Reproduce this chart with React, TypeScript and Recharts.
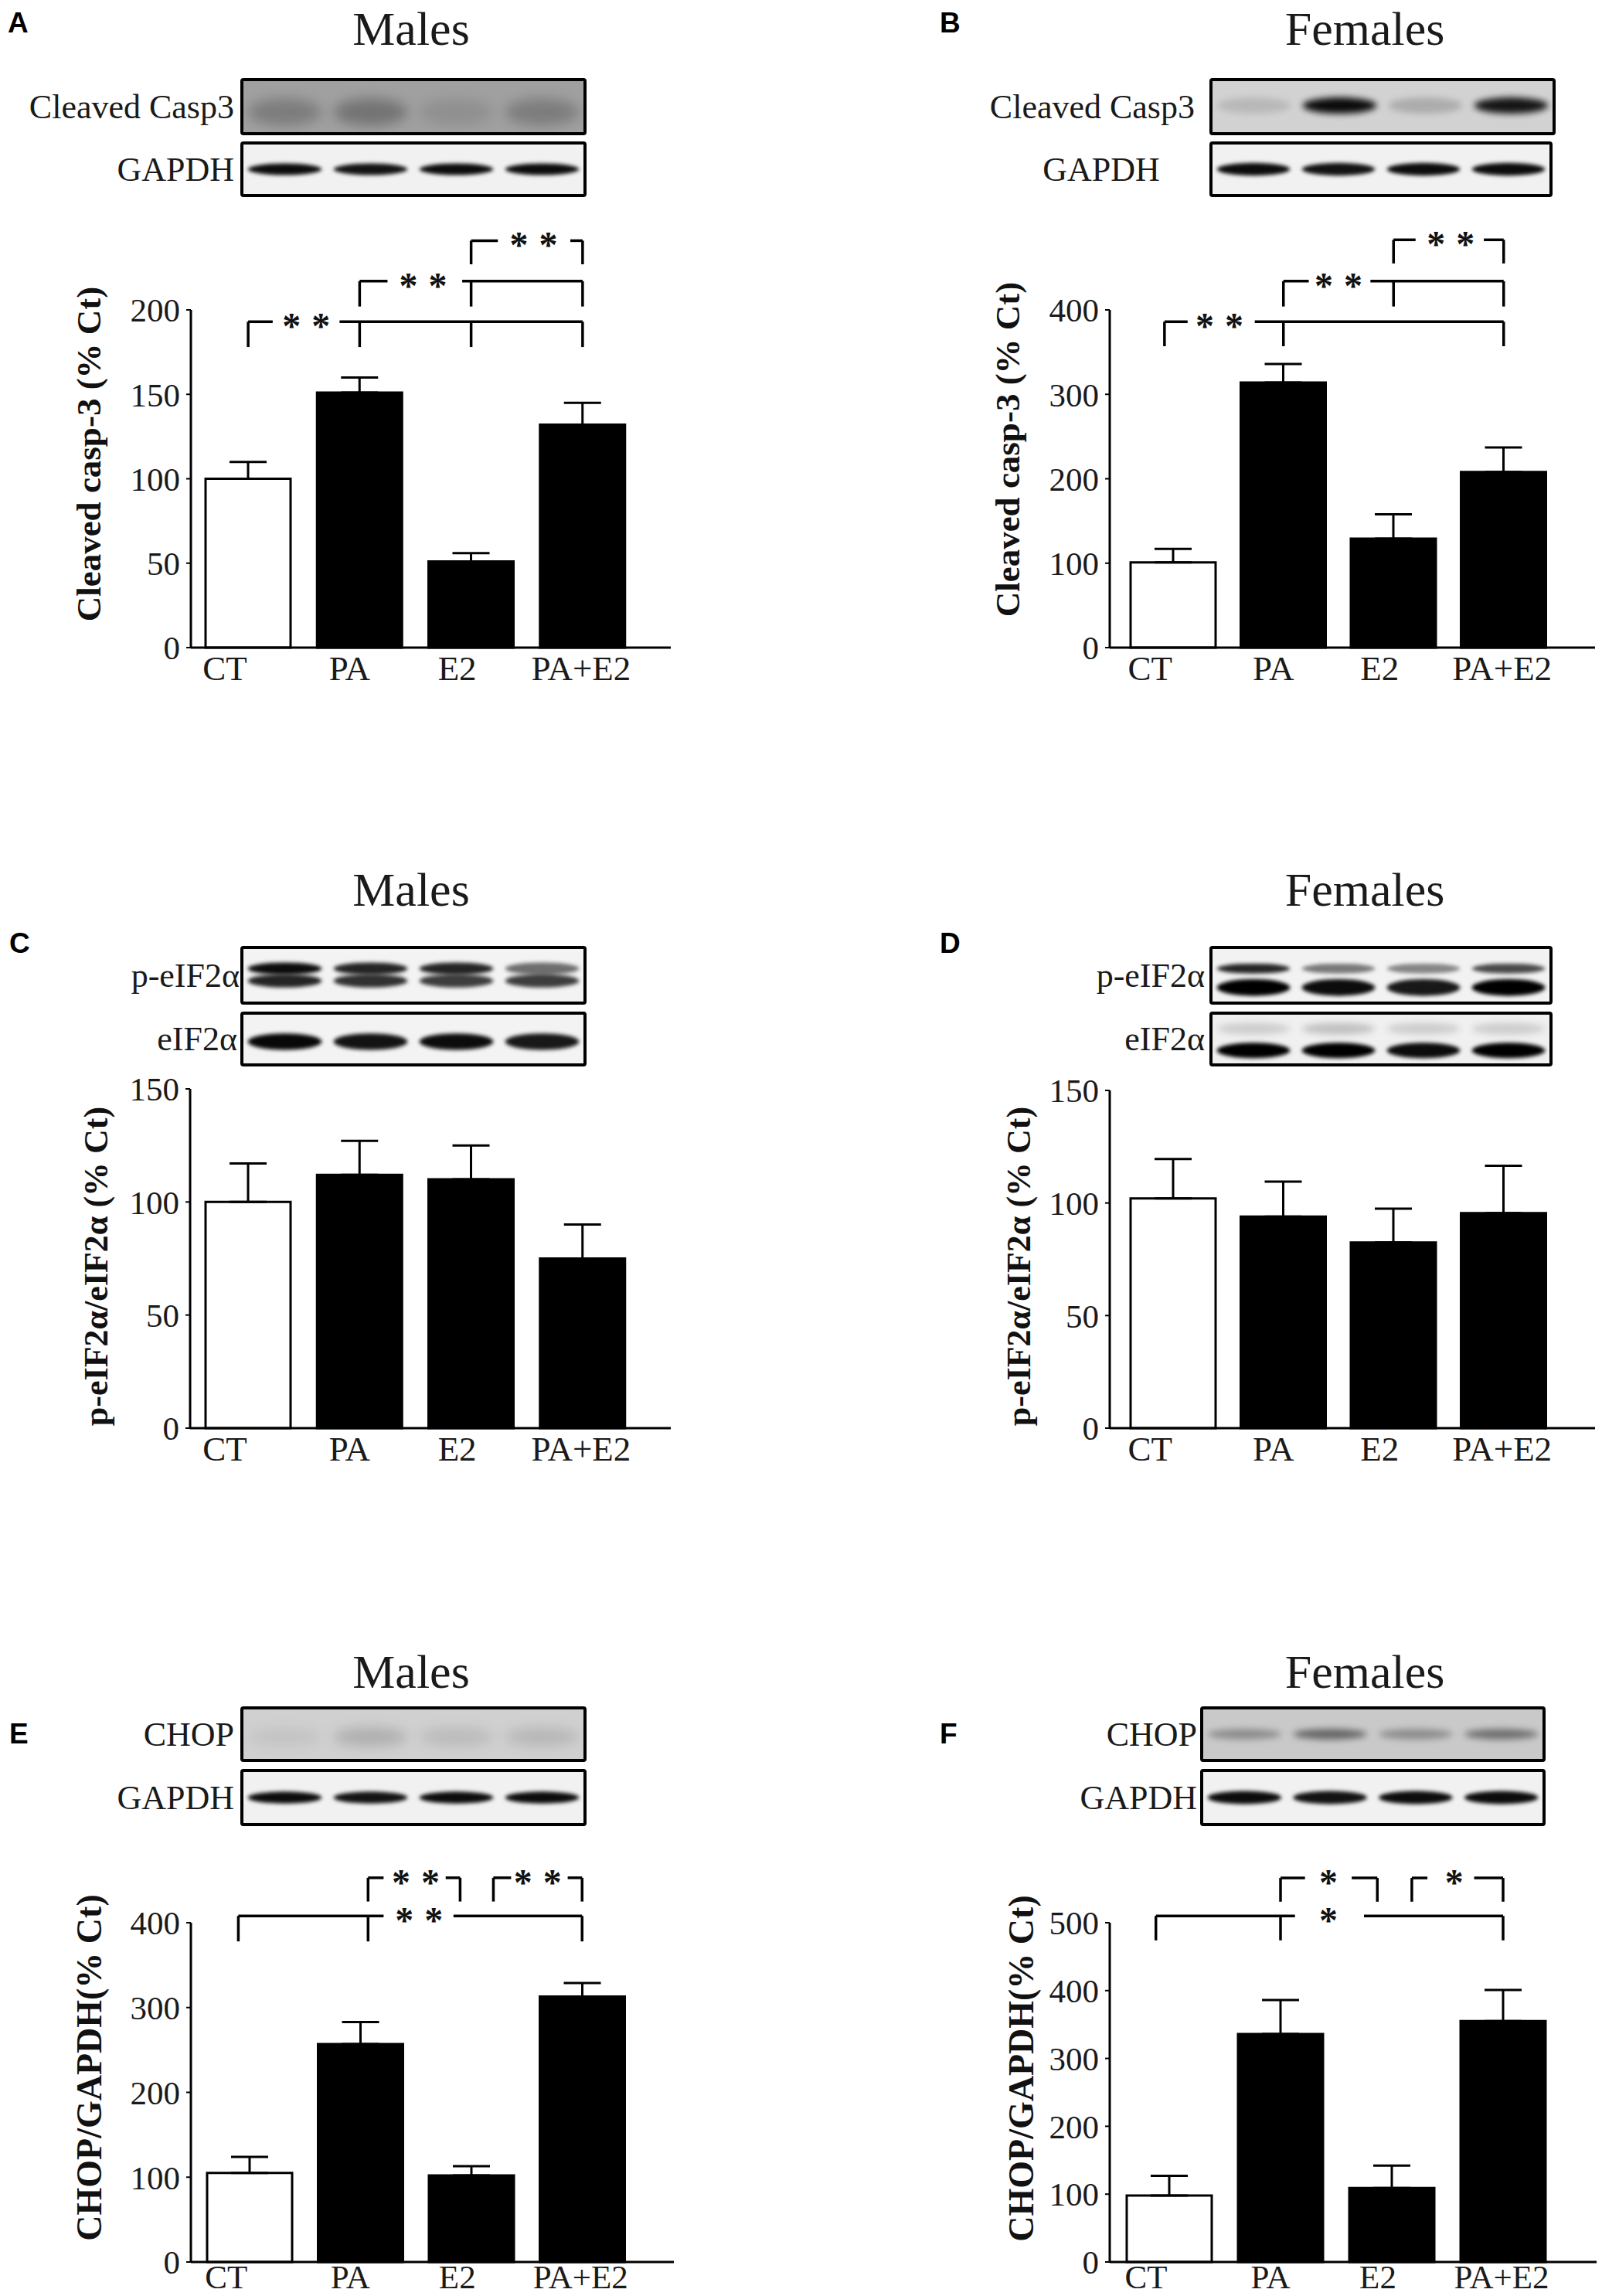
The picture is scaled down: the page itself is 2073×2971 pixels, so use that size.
import React from 'react'
import { BarChart, Bar, Cell, XAxis, YAxis, ErrorBar, ReferenceLine, ReferenceDot } from 'recharts'

const SERIF = '"Liberation Serif", "Times New Roman", Times, serif'
const SANS = '"Liberation Sans", Arial, sans-serif'

// groups on every x axis
const groups = ['CT', 'PA', 'E2', 'PA+E2']
const groupIndex = [0, 1, 2, 3]
const barFills = ['#ffffff', '#000000', '#000000', '#000000']

// means and SEM (% of control)
const casp3Males = [100, 151, 51, 132]
const casp3MalesErr = [10, 9, 5, 13]
const casp3Females = [101, 314, 129, 208]
const casp3FemalesErr = [16, 22, 29, 29]
const eif2Males = [100, 112, 110, 75]
const eif2MalesErr = [17, 15, 15, 15]
const eif2Females = [102, 94, 82.5, 95.5]
const eif2FemalesErr = [17.5, 15.5, 15, 21]
const chopMales = [105, 257, 102, 313]
const chopMalesErr = [19, 26, 11, 16]
const chopFemales = [98, 336, 109, 355]
const chopFemalesErr = [29, 50, 33, 46]

const ticks150 = [0, 50, 100, 150]
const ticks200 = [0, 50, 100, 150, 200]
const ticks400 = [0, 100, 200, 300, 400]
const ticks500 = [0, 100, 200, 300, 400, 500]

// band darkness per lane for the blots
const casp3MalesBand = [0.22, 0.28, 0.1, 0.22]
const casp3FemalesBand = [0.12, 0.95, 0.18, 0.9]
const gapdhBand = [0.95, 0.92, 0.95, 0.95]
const peif2MalesUpper = [0.95, 0.85, 0.85, 0.55]
const peif2MalesLower = [0.85, 0.8, 0.75, 0.75]
const eif2MalesBand = [0.97, 0.92, 0.95, 0.9]
const peif2FemalesUpper = [0.85, 0.5, 0.45, 0.7]
const peif2FemalesLower = [1, 0.95, 0.9, 1]
const eif2FemalesFaint = [0.15, 0.2, 0.15, 0.15]
const eif2FemalesBand = [1, 1, 0.95, 1]
const chopMalesBand = [0.06, 0.16, 0.1, 0.12]
const chopFemalesBand = [0.3, 0.5, 0.3, 0.45]

type Bracket = {
  y: number
  drop: number
  ends: [number, number]
  ticks: number[]
  gap: [number, number]
  mark: string
  markX: number
}

// significance brackets, x in group index units
const bracketsA: Bracket[] = [
  { y: 193, drop: 15, ends: [0, 3], ticks: [0, 1, 2, 3], gap: [0.22, 0.82], mark: '**', markX: 0.52 },
  { y: 217, drop: 15, ends: [1, 3], ticks: [1, 2, 3], gap: [1.25, 1.92], mark: '**', markX: 1.57 },
  { y: 241, drop: 14, ends: [2, 3], ticks: [2, 3], gap: [2.24, 2.89], mark: '**', markX: 2.56 },
]
const bracketsB: Bracket[] = [
  { y: 386, drop: 29, ends: [-0.08, 3], ticks: [-0.08, 1, 3], gap: [0.13, 0.74], mark: '**', markX: 0.42 },
  { y: 434, drop: 30, ends: [1, 3], ticks: [1, 2, 3], gap: [1.23, 1.79], mark: '**', markX: 1.5 },
  { y: 483, drop: 28, ends: [2, 3], ticks: [2, 3], gap: [2.2, 2.82], mark: '**', markX: 2.52 },
]
const bracketsE: Bracket[] = [
  { y: 408, drop: 30, ends: [-0.1, 3], ticks: [-0.1, 1.07, 3], gap: [1.21, 1.84], mark: '**', markX: 1.53 },
  { y: 453, drop: 28, ends: [1.07, 1.9], ticks: [1.07, 1.9], gap: [1.21, 1.77], mark: '**', markX: 1.5 },
  { y: 453, drop: 28, ends: [2.2, 3], ticks: [2.2, 3], gap: [2.36, 2.87], mark: '**', markX: 2.6 },
]
const bracketsF: Bracket[] = [
  { y: 510, drop: 36, ends: [-0.12, 3], ticks: [-0.12, 1, 3], gap: [1.13, 1.75], mark: '*', markX: 1.43 },
  { y: 566, drop: 35, ends: [1, 1.87], ticks: [1, 1.87], gap: [1.22, 1.64], mark: '*', markX: 1.43 },
  { y: 566, drop: 35, ends: [2.18, 3], ticks: [2.18, 3], gap: [2.32, 2.74], mark: '*', markX: 2.56 },
]

const YW = 210
const MT = 160
const MR = 8
const labelShift = [-30, -13, -18, -2]

const panels = [
  { id: 'A', values: casp3Males, errors: casp3MalesErr, ticks: ticks200, left: 247, right: 868, top: 401, bottom: 838, pad: { left: 2, right: 42 }, yLabel: 'Cleaved casp-3 (% Ct)', labelSize: 45, labelOffset: 132, labelDy: -32, brackets: bracketsA, xh: 60, catFont: 45, catMargin: 10 },
  { id: 'B', values: casp3Females, errors: casp3FemalesErr, ticks: ticks400, left: 1436, right: 2064, top: 401, bottom: 838, pad: { left: 11, right: 47 }, yLabel: 'Cleaved casp-3 (% Ct)', labelSize: 45, labelOffset: 132, labelDy: -38, brackets: bracketsB, xh: 60, catFont: 45, catMargin: 10 },
  { id: 'C', values: eif2Males, errors: eif2MalesErr, ticks: ticks150, left: 246, right: 868, top: 1409, bottom: 1848, pad: { left: 3, right: 42 }, yLabel: 'p-eIF2α/eIF2α (% Ct)', labelSize: 44, labelOffset: 122, labelDy: 10, brackets: [] as Bracket[], xh: 60, catFont: 45, catMargin: 10 },
  { id: 'D', values: eif2Females, errors: eif2FemalesErr, ticks: ticks150, left: 1436, right: 2064, top: 1411, bottom: 1848, pad: { left: 11, right: 47 }, yLabel: 'p-eIF2α/eIF2α (% Ct)', labelSize: 44, labelOffset: 118, labelDy: 9, brackets: [] as Bracket[], xh: 60, catFont: 45, catMargin: 10 },
  { id: 'E', values: chopMales, errors: chopMalesErr, ticks: ticks400, left: 247, right: 872, top: 2488, bottom: 2927, pad: { left: 4, right: 47 }, yLabel: 'CHOP/GAPDH(% Ct)', labelSize: 46, labelOffset: 132, labelDy: -32, brackets: bracketsE, xh: 44, catFont: 43, catMargin: 3 },
  { id: 'F', values: chopFemales, errors: chopFemalesErr, ticks: ticks500, left: 1436, right: 2066, top: 2488, bottom: 2927, pad: { left: 5, right: 49 }, yLabel: 'CHOP/GAPDH(% Ct)', labelSize: 46, labelOffset: 115, labelDy: -31, brackets: bracketsF, xh: 44, catFont: 43, catMargin: 3 },
]

type BlotRow = { pos: number; thick: number; dark: number[]; blur: string }
type BlotSpec = { label: string; labelX: number; anchor: 'end' | 'middle'; x: number; y: number; w: number; h: number; bg: string; rows: BlotRow[] }

const blots: BlotSpec[] = [
  { label: 'Cleaved Casp3', labelX: 303, anchor: 'end', x: 313, y: 103, w: 444, h: 70, bg: '#a0a0a0', rows: [{ pos: 0.6, thick: 0.5, dark: casp3MalesBand, blur: 'haze' }] },
  { label: 'GAPDH', labelX: 303, anchor: 'end', x: 313, y: 185, w: 444, h: 68, bg: '#f1f1f1', rows: [{ pos: 0.5, thick: 0.22, dark: gapdhBand, blur: 'soft' }] },
  { label: 'Cleaved Casp3', labelX: 1546, anchor: 'end', x: 1567, y: 103, w: 444, h: 70, bg: '#d2d2d2', rows: [{ pos: 0.48, thick: 0.3, dark: casp3FemalesBand, blur: 'mid' }] },
  { label: 'GAPDH', labelX: 1425, anchor: 'middle', x: 1567, y: 185, w: 440, h: 68, bg: '#f1f1f1', rows: [{ pos: 0.5, thick: 0.24, dark: gapdhBand, blur: 'soft' }] },
  { label: 'p-eIF2α', labelX: 310, anchor: 'end', x: 313, y: 1226, w: 444, h: 72, bg: '#f3f3f3', rows: [{ pos: 0.38, thick: 0.22, dark: peif2MalesUpper, blur: 'soft' }, { pos: 0.6, thick: 0.24, dark: peif2MalesLower, blur: 'soft' }] },
  { label: 'eIF2α', labelX: 307, anchor: 'end', x: 313, y: 1311, w: 444, h: 67, bg: '#f3f3f3', rows: [{ pos: 0.55, thick: 0.32, dark: eif2MalesBand, blur: 'soft' }] },
  { label: 'p-eIF2α', labelX: 1559, anchor: 'end', x: 1567, y: 1226, w: 440, h: 72, bg: '#f2f2f2', rows: [{ pos: 0.38, thick: 0.18, dark: peif2FemalesUpper, blur: 'soft' }, { pos: 0.72, thick: 0.3, dark: peif2FemalesLower, blur: 'soft' }] },
  { label: 'eIF2α', labelX: 1559, anchor: 'end', x: 1567, y: 1311, w: 440, h: 67, bg: '#f0f0f0', rows: [{ pos: 0.3, thick: 0.22, dark: eif2FemalesFaint, blur: 'mid' }, { pos: 0.72, thick: 0.3, dark: eif2FemalesBand, blur: 'soft' }] },
  { label: 'CHOP', labelX: 303, anchor: 'end', x: 313, y: 2210, w: 444, h: 68, bg: '#d0d0d0', rows: [{ pos: 0.55, thick: 0.35, dark: chopMalesBand, blur: 'haze' }] },
  { label: 'GAPDH', labelX: 303, anchor: 'end', x: 313, y: 2291, w: 444, h: 70, bg: '#f1f1f1', rows: [{ pos: 0.5, thick: 0.22, dark: gapdhBand, blur: 'soft' }] },
  { label: 'CHOP', labelX: 1549, anchor: 'end', x: 1555, y: 2210, w: 443, h: 68, bg: '#c9c9c9', rows: [{ pos: 0.5, thick: 0.2, dark: chopFemalesBand, blur: 'mid' }] },
  { label: 'GAPDH', labelX: 1549, anchor: 'end', x: 1555, y: 2291, w: 443, h: 70, bg: '#f1f1f1', rows: [{ pos: 0.5, thick: 0.24, dark: gapdhBand, blur: 'soft' }] },
]

const titles = [
  { text: 'Males', x: 532, y: 58 },
  { text: 'Females', x: 1766, y: 58 },
  { text: 'Males', x: 532, y: 1172 },
  { text: 'Females', x: 1766, y: 1172 },
  { text: 'Males', x: 532, y: 2184 },
  { text: 'Females', x: 1766, y: 2184 },
]

const letters = [
  { text: 'A', x: 10, y: 42 },
  { text: 'B', x: 1216, y: 42 },
  { text: 'C', x: 12, y: 1233 },
  { text: 'D', x: 1216, y: 1233 },
  { text: 'E', x: 12, y: 2256 },
  { text: 'F', x: 1216, y: 2256 },
]

function Blot({ b }: { b: BlotSpec }) {
  return (
    <g>
      <rect x={b.x} y={b.y} width={b.w} height={b.h} fill={b.bg} />
      {b.rows.map((r, ri) =>
        r.dark.map((d, i) => (
          <ellipse
            key={`${ri}-${i}`}
            cx={b.x + (b.w * (i + 0.5)) / 4}
            cy={b.y + b.h * r.pos}
            rx={b.w * 0.108}
            ry={(b.h * r.thick) / 2}
            fill={`rgba(0,0,0,${d})`}
            filter={`url(#${r.blur})`}
          />
        ))
      )}
      <rect x={b.x} y={b.y} width={b.w} height={b.h} fill="none" stroke="#000" strokeWidth={4} rx={2} />
      <text x={b.labelX} y={b.y + b.h / 2} textAnchor={b.anchor} dominantBaseline="central" fontFamily={SERIF} fontSize={44} fill="#1a1a1a">
        {b.label}
      </text>
    </g>
  )
}

function CatTick(props: any) {
  const { x, y, payload, fontSize } = props
  const i = Math.round(payload.value)
  return (
    <text x={x + labelShift[i]} y={y} dy="0.71em" textAnchor="middle" fontFamily={SERIF} fontSize={fontSize} fill="#1a1a1a">
      {groups[i]}
    </text>
  )
}

function Panel({ p }: { p: (typeof panels)[number] }) {
  const data = groups.map((g, i) => ({ idx: groupIndex[i], group: g, value: p.values[i], err: [0, p.errors[i]] }))
  const plotW = p.right - p.left
  const plotH = p.bottom - p.top
  const W = YW + plotW + MR
  const H = MT + plotH + p.xh
  const lx = YW - p.labelOffset
  const ly = MT + plotH / 2 + p.labelDy
  const max = p.ticks[p.ticks.length - 1]

  const lines: React.ReactNode[] = []
  p.brackets.forEach((b, bi) => {
    lines.push(
      <ReferenceLine key={`h1-${bi}`} ifOverflow="visible" stroke="#000" strokeWidth={3.5}
        segment={[{ x: b.ends[0], y: b.y }, { x: b.gap[0], y: b.y }]} />,
      <ReferenceLine key={`h2-${bi}`} ifOverflow="visible" stroke="#000" strokeWidth={3.5}
        segment={[{ x: b.gap[1], y: b.y }, { x: b.ends[1], y: b.y }]} />
    )
    b.ticks.forEach((t, ti) => {
      lines.push(
        <ReferenceLine key={`v-${bi}-${ti}`} ifOverflow="visible" stroke="#000" strokeWidth={3.5}
          segment={[{ x: t, y: b.y }, { x: t, y: b.y - b.drop }]} />
      )
    })
    lines.push(
      <ReferenceDot key={`m-${bi}`} x={b.markX} y={b.y} r={0} ifOverflow="visible"
        label={{ value: b.mark, position: 'center', fontSize: 48, fontFamily: SERIF, fontWeight: 'bold', fill: '#111', dy: 5, dx: 7, letterSpacing: 14 }} />
    )
  })

  return (
    <div style={{ position: 'absolute', left: p.left - YW, top: p.top - MT }}>
      <BarChart width={W} height={H} data={data} margin={{ top: MT, right: MR, left: 0, bottom: 0 }}>
        <XAxis
          dataKey="idx"
          type="number"
          domain={[-0.5, 3.5]}
          allowDataOverflow
          ticks={groupIndex}
          height={p.xh}
          padding={p.pad}
          interval={0}
          tickLine={false}
          tickSize={0}
          tickMargin={p.catMargin}
          axisLine={{ stroke: '#000', strokeWidth: 3 }}
          tick={<CatTick fontSize={p.catFont} />}
        />
        <YAxis
          width={YW}
          domain={[0, max]}
          ticks={p.ticks}
          interval={0}
          tickSize={6}
          tickMargin={8}
          axisLine={{ stroke: '#000', strokeWidth: 3 }}
          tickLine={{ stroke: '#000', strokeWidth: 2 }}
          tick={{ fontSize: 43, fill: '#1a1a1a', fontFamily: SERIF }}
          label={{
            content: () => (
              <text x={lx} y={ly} transform={`rotate(-90 ${lx} ${ly})`} textAnchor="middle" dominantBaseline="central"
                fontFamily={SERIF} fontWeight="bold" fontSize={p.labelSize} fill="#111">
                {p.yLabel}
              </text>
            ),
          }}
        />
        <Bar dataKey="value" barSize={110} stroke="#000" strokeWidth={3} isAnimationActive={false}>
          {data.map((d, i) => (
            <Cell key={d.group} fill={barFills[i]} />
          ))}
          <ErrorBar dataKey="err" direction="y" width={24} stroke="#000" strokeWidth={3} isAnimationActive={false} />
        </Bar>
        {lines}
      </BarChart>
    </div>
  )
}

export default function App() {
  return (
    <div style={{ position: 'absolute', left: 0, top: 0, width: 2073, height: 2971, background: '#fff', overflow: 'hidden' }}>
      <svg width={2073} height={2971} style={{ position: 'absolute', left: 0, top: 0 }}>
        <defs>
          <filter id="soft" x="-50%" y="-100%" width="200%" height="300%">
            <feGaussianBlur stdDeviation="2.5" />
          </filter>
          <filter id="mid" x="-50%" y="-100%" width="200%" height="300%">
            <feGaussianBlur stdDeviation="4" />
          </filter>
          <filter id="haze" x="-50%" y="-100%" width="200%" height="300%">
            <feGaussianBlur stdDeviation="8" />
          </filter>
        </defs>
        {titles.map((t, i) => (
          <text key={i} x={t.x} y={t.y} textAnchor="middle" fontFamily={SERIF} fontSize={62} fill="#1a1a1a">
            {t.text}
          </text>
        ))}
        {letters.map((l) => (
          <text key={l.text} x={l.x} y={l.y} fontFamily={SANS} fontWeight="bold" fontSize={37} fill="#000">
            {l.text}
          </text>
        ))}
        {blots.map((b, i) => (
          <Blot key={i} b={b} />
        ))}
      </svg>
      {panels.map((p) => (
        <Panel key={p.id} p={p} />
      ))}
    </div>
  )
}
